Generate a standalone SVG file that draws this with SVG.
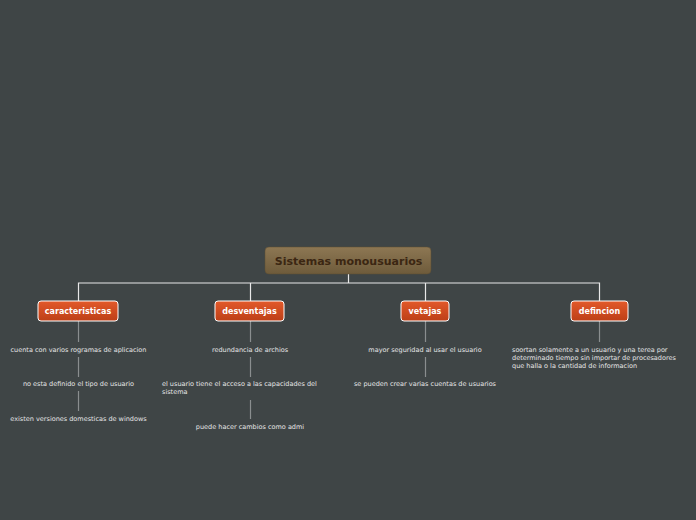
<svg xmlns="http://www.w3.org/2000/svg" width="696" height="520" viewBox="0 0 696 520">
<defs>
<linearGradient id="gRoot" x1="0" y1="0" x2="0" y2="1"><stop offset="0" stop-color="#8d7753"/><stop offset="1" stop-color="#6e5b3b"/></linearGradient>
<linearGradient id="gSub" x1="0" y1="0" x2="0" y2="1"><stop offset="0" stop-color="#e2592a"/><stop offset="1" stop-color="#bd3f17"/></linearGradient>
</defs>
<style>
.root{fill:url(#gRoot);stroke:#5e4e33;stroke-width:0.5}
.rt{font-family:"DejaVu Sans",Verdana,sans-serif;font-weight:bold;font-size:11px;fill:#3b2612;text-anchor:middle}
.sub{fill:url(#gSub);stroke:#ffffff;stroke-width:1}
.st{font-family:"DejaVu Sans",Verdana,sans-serif;font-weight:bold;font-size:8px;fill:#ffffff;text-anchor:middle}
.lt{font-family:"DejaVu Sans",Verdana,sans-serif;font-size:6.5px;fill:#e6e6e6}
.c{text-anchor:middle}
.main{stroke:#e8e8e8;stroke-width:1.2;fill:none}
.thin{stroke:#8a8e8f;stroke-width:1.2;fill:none}
</style>
<rect width="696" height="520" fill="#3f4546"/>
<g id="connectors">
<path class="main" d="M348.5 274V283M78.5 301V283H599.5V301M250.5 283V301M425.5 283V301"/>
<path class="thin" d="M78.5 321V342M78.5 357V377M78.5 391V411"/>
<path class="thin" d="M250.5 321V342M250.5 357V377M250.5 400V419"/>
<path class="thin" d="M425.5 321V342M425.5 357V377"/>
<path class="thin" d="M599.5 321V342"/>
</g>
<g id="root"><rect class="root" x="265" y="247" width="166" height="27" rx="4"/><text class="rt" x="348.5" y="265">Sistemas monousuarios</text></g>
<g id="caracteristicas"><rect class="sub" x="38" y="301" width="80" height="20" rx="3"/><text class="st" x="78" y="314">caracteristicas</text></g>
<g id="desventajas"><rect class="sub" x="215" y="301" width="69" height="20" rx="3"/><text class="st" x="249.5" y="314">desventajas</text></g>
<g id="vetajas"><rect class="sub" x="401" y="301" width="48" height="20" rx="3"/><text class="st" x="425" y="314">vetajas</text></g>
<g id="definicion"><rect class="sub" x="571" y="301" width="57" height="20" rx="3"/><text class="st" x="599.5" y="314">defincion</text></g>
<g id="c1"><text class="lt c" x="78.5" y="352">cuenta con varios rogramas de aplicacion</text></g>
<g id="c2"><text class="lt c" x="78.5" y="386">no esta definido el tipo de usuario</text></g>
<g id="c3"><text class="lt c" x="78.5" y="421">existen versiones domesticas de windows</text></g>
<g id="d1"><text class="lt c" x="250" y="352">redundancia de archios</text></g>
<g id="d2"><text class="lt" x="162" y="386">el usuario tiene el acceso a las capacidades del</text><text class="lt" x="162" y="394">sistema</text></g>
<g id="d3"><text class="lt c" x="250" y="429">puede hacer cambios como admi</text></g>
<g id="v1"><text class="lt c" x="425" y="352">mayor seguridad al usar el usuario</text></g>
<g id="v2"><text class="lt c" x="425" y="386">se pueden crear varias cuentas de usuarios</text></g>
<g id="f1"><text class="lt" x="512" y="352">soortan solamente a un usuario y una terea por</text><text class="lt" x="512" y="360">determinado tiempo sin importar de procesadores</text><text class="lt" x="512" y="368">que halla o la cantidad de informacion</text></g>
</svg>
